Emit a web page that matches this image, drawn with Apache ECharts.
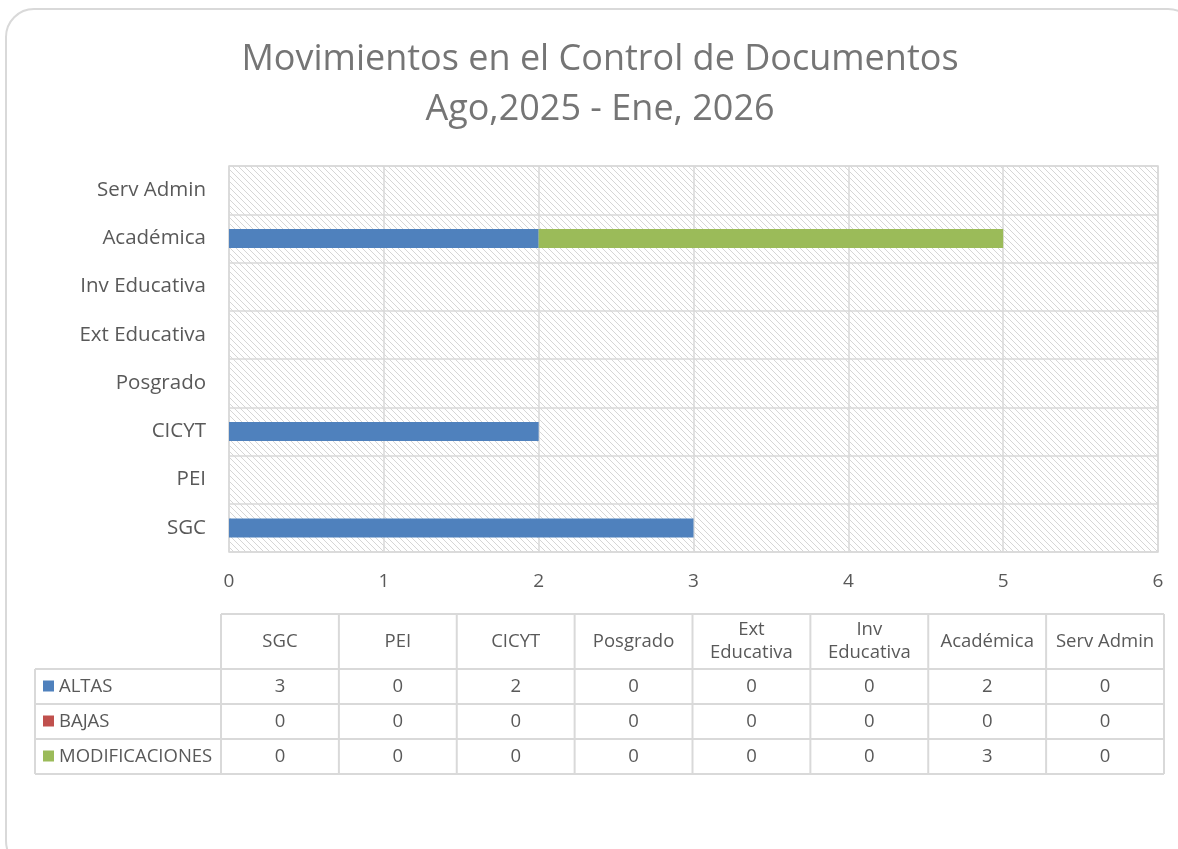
<!DOCTYPE html>
<html>
<head>
<meta charset="utf-8">
<script src="https://cdn.jsdelivr.net/npm/echarts@6/dist/echarts.min.js"></script>
<style>
  html, body { margin: 0; padding: 0; background: #fff; }
  #chart { width: 1178px; height: 849px; }
</style>
</head>
<body>
<div id="chart"></div>
<script>
// categorías (de abajo hacia arriba en el eje)
var categorias = ['SGC', 'PEI', 'CICYT', 'Posgrado', 'Ext Educativa', 'Inv Educativa', 'Académica', 'Serv Admin'];
var cabeceras = ['SGC', 'PEI', 'CICYT', 'Posgrado', 'Ext\nEducativa', 'Inv\nEducativa', 'Académica', 'Serv Admin'];

// series
var altas = [3, 0, 2, 0, 0, 0, 2, 0];
var bajas = [0, 0, 0, 0, 0, 0, 0, 0];
var modificaciones = [0, 0, 0, 0, 0, 0, 3, 0];

var nombres = ['ALTAS', 'BAJAS', 'MODIFICACIONES'];
var colores = ['#4f81bd', '#c0504d', '#9bbb59'];
var valores = [altas, bajas, modificaciones];

var titulo = 'Movimientos en el Control de Documentos\nAgo,2025 - Ene, 2026';

var fuente = 'Open Sans';
var gris = '#595959';
var linea = '#d9d9d9';

// patrón rayado del fondo
var patron = (function() {
    var c = document.createElement('canvas');
    c.width = 6; c.height = 6;
    var g = c.getContext('2d');
    g.strokeStyle = '#d6d6d6';
    g.lineWidth = 1;
    g.beginPath();
    g.moveTo(-1, -1); g.lineTo(7, 7);
    g.moveTo(-1, 5); g.lineTo(1, 7);
    g.moveTo(5, -1); g.lineTo(7, 1);
    g.stroke();
    return c;
})();

// tabla de datos (debajo del gráfico)
var tabla = function() {
    var x0 = 221, x1 = 1164, xl = 35;
    var yh = 614, yd = 669, rh = 35;
    var w = (x1 - x0) / cabeceras.length;
    var els = [], i, j, y;
    var ls = { stroke: linea, lineWidth: 2 };
    var f = '18.5px "' + fuente + '"';

    // líneas horizontales
    els.push({ type: 'line', shape: { x1: x0, y1: yh, x2: x1, y2: yh }, style: ls });
    for (j = 0; j <= nombres.length; j++) {
        y = yd + j * rh;
        els.push({ type: 'line', shape: { x1: xl, y1: y, x2: x1, y2: y }, style: ls });
    }
    // líneas verticales
    els.push({ type: 'line', shape: { x1: xl, y1: yd, x2: xl, y2: yd + nombres.length * rh }, style: ls });
    for (i = 0; i <= cabeceras.length; i++) {
        els.push({ type: 'line', shape: { x1: x0 + i * w, y1: yh, x2: x0 + i * w, y2: yd + nombres.length * rh }, style: ls });
    }
    // cabeceras
    for (i = 0; i < cabeceras.length; i++) {
        els.push({ type: 'text', x: x0 + (i + 0.5) * w, y: (yh + yd) / 2,
            style: { text: cabeceras[i], font: f, fill: gris, align: 'center', verticalAlign: 'middle', lineHeight: 23 } });
    }
    // filas
    for (j = 0; j < nombres.length; j++) {
        y = yd + (j + 0.5) * rh;
        els.push({ type: 'rect', shape: { x: 43, y: y - 6, width: 11, height: 11 }, style: { fill: colores[j] } });
        els.push({ type: 'text', x: 59, y: y,
            style: { text: nombres[j], font: f, fill: gris, align: 'left', verticalAlign: 'middle' } });
        for (i = 0; i < cabeceras.length; i++) {
            els.push({ type: 'text', x: x0 + (i + 0.5) * w, y: y,
                style: { text: String(valores[j][i]), font: f, fill: gris, align: 'center', verticalAlign: 'middle' } });
        }
    }
    return els;
};

var chart = echarts.init(document.getElementById('chart'));

var series = nombres.map(function(n, k) {
    return {
        name: n, type: 'bar', stack: 'total',
        data: valores[k],
        barWidth: 19,
        itemStyle: { color: colores[k] }
    };
});

chart.setOption({
    animation: false,
    grid: {
        left: 229, right: 20, top: 166, bottom: 297,
        show: true, borderColor: linea, borderWidth: 1.5,
        backgroundColor: { image: patron, repeat: 'repeat' }
    },
    xAxis: {
        type: 'value', min: 0, max: 6, interval: 1,
        axisLine: { show: false }, axisTick: { show: false },
        splitLine: { lineStyle: { color: linea, width: 1.5 } },
        axisLabel: { fontFamily: fuente, fontSize: 19, color: gris, margin: 20 }
    },
    yAxis: {
        type: 'category', data: categorias,
        axisLine: { show: false }, axisTick: { show: false },
        splitLine: { show: true, lineStyle: { color: linea, width: 1.5 } },
        axisLabel: { fontFamily: fuente, fontSize: 20.5, color: gris, margin: 23 }
    },
    series: series,
    graphic: [{
        type: 'rect', shape: { x: 6, y: 9, width: 1190, height: 860, r: 28 },
        style: { fill: null, stroke: linea, lineWidth: 2 }, silent: true
    }, {
        // título
        type: 'text', x: 600, y: 35,
        style: { text: titulo, font: '36px "' + fuente + '"', fill: '#757575', align: 'center', verticalAlign: 'top', lineHeight: 50 }
    }].concat(tabla())
});
</script>
</body>
</html>
